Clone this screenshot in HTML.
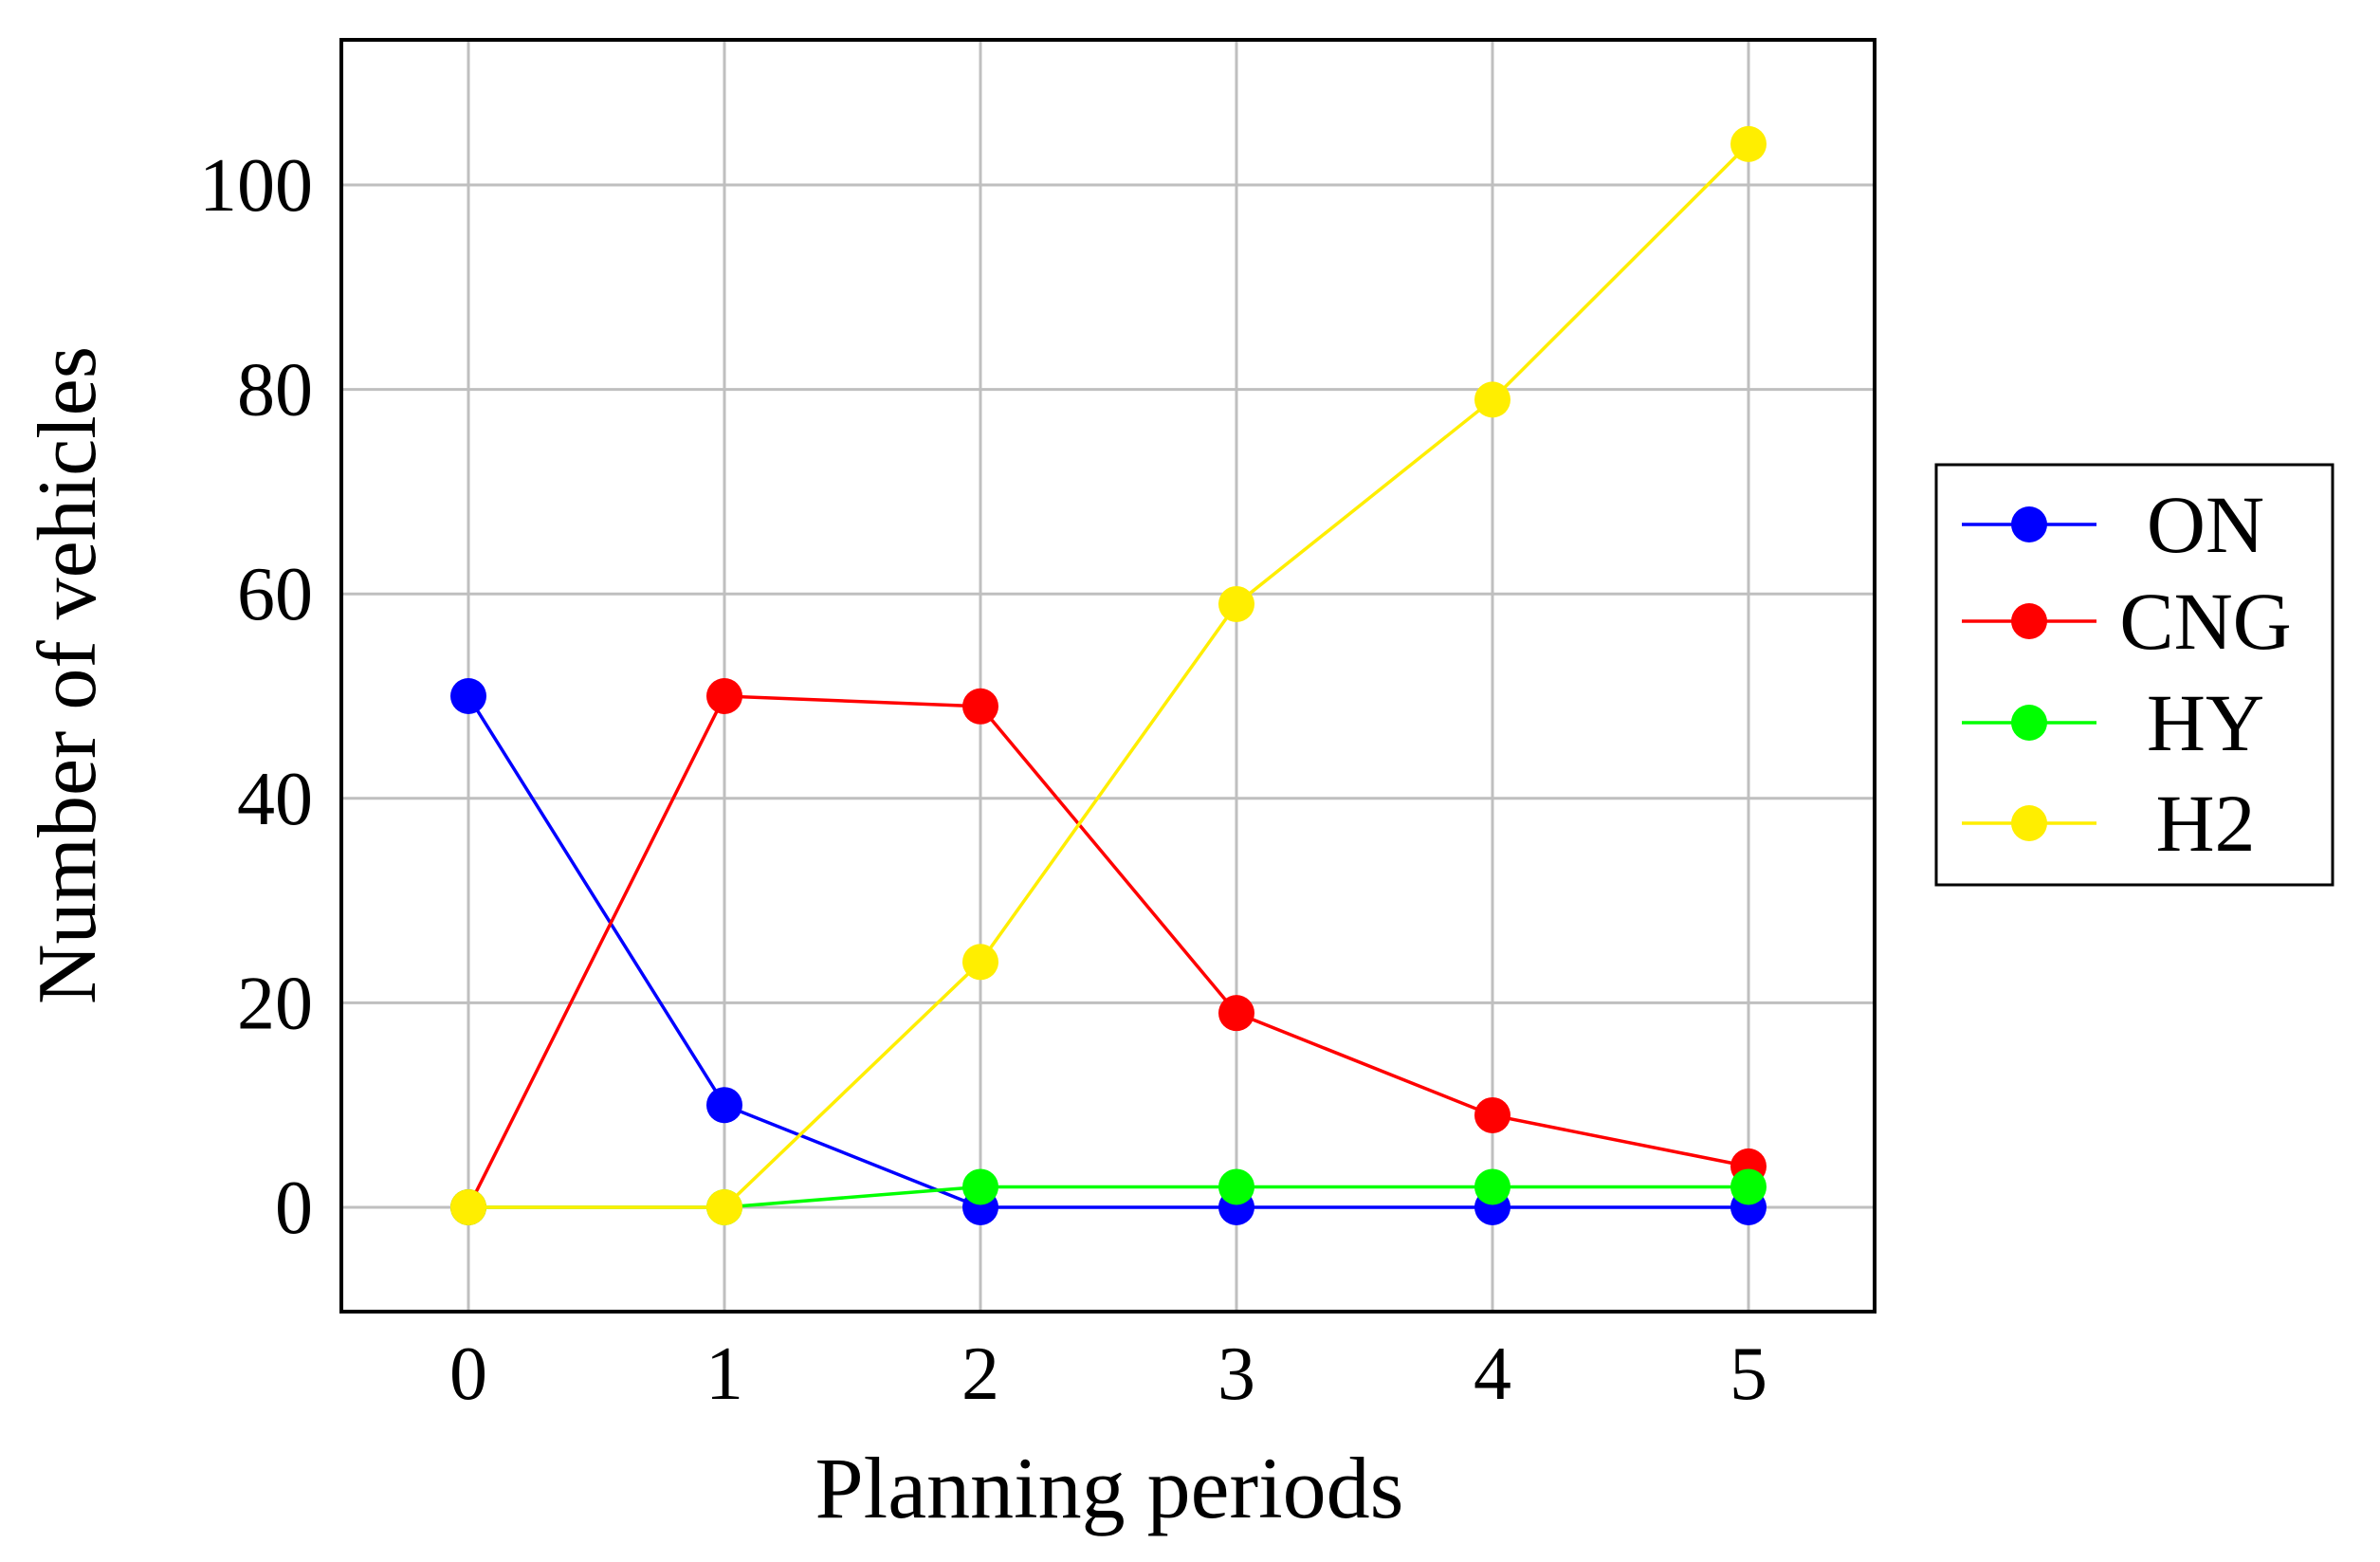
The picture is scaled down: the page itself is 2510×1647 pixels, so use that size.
<!DOCTYPE html>
<html><head><meta charset="utf-8"><style>
html,body{margin:0;padding:0;background:#fff;}
svg{display:block;font-family:"Liberation Serif",serif;}
</style></head><body>
<svg id="chart" width="2510" height="1647" viewBox="0 0 2510 1647">
<g id="grid"></g>
<g id="series"></g>
<rect x="360" y="42" width="1617" height="1341" fill="none" stroke="#000" stroke-width="4"/>
<g id="ticks"></g>
<text x="1170" y="1600" font-size="92" text-anchor="middle">Planning periods</text>
<text transform="translate(100,712) rotate(-90)" font-size="88" text-anchor="middle">Number of vehicles</text>
<g id="legend">
<rect x="2042" y="490" width="418" height="443" fill="#fff" stroke="#000" stroke-width="3"/>
</g>
</svg>
<script>
const categories=[0,1,2,3,4,5];
const seriesNames=["ON","CNG","HY","H2"];
const seriesColors=["#0000ff","#ff0000","#00ff00","#ffee00"];
const onValues=[50,10,0,0,0,0];
const cngValues=[0,50,49,19,9,4];
const hyValues=[0,0,2,2,2,2];
const h2Values=[0,0,24,59,79,104];
const yTicks=[0,20,40,60,80,100];
const NS="http://www.w3.org/2000/svg";
function xs(v){return 494+v*270;}
function ys(v){return 1273-v*10.78;}
function mk(tag,attrs,parent){const e=document.createElementNS(NS,tag);for(const k in attrs)e.setAttribute(k,attrs[k]);parent.appendChild(e);return e;}
const grid=document.getElementById('grid'),ticks=document.getElementById('ticks'),series=document.getElementById('series'),legend=document.getElementById('legend');
categories.forEach(c=>{
  const l=mk('line',{x1:xs(c),x2:xs(c),y1:42,y2:1383,stroke:'#bfbfbf','stroke-width':3},grid);
  
  
  const t=mk('text',{x:xs(c),y:1475,'font-size':80,'text-anchor':'middle'},ticks);
  t.textContent=c;
  
  
});
yTicks.forEach(v=>{
  const l=mk('line',{x1:360,x2:1977,y1:ys(v),y2:ys(v),stroke:'#bfbfbf','stroke-width':3},grid);
  
  
  const t=mk('text',{x:330,y:ys(v)+27,'font-size':80,'text-anchor':'end'},ticks);
  t.textContent=v;
  
  
});
const allVals=[onValues,cngValues,hyValues,h2Values];
const legendY=[553,655,762,868];
allVals.forEach((vals,i)=>{
  const g=mk('g',{},series);
  
  
  const pts=vals.map((v,j)=>xs(categories[j])+','+ys(v)).join(' ');
  const pl=mk('polyline',{points:pts,fill:'none',stroke:seriesColors[i],'stroke-width':3.5},g);
  
  
  vals.forEach((v,j)=>{
    const c=mk('circle',{cx:xs(categories[j]),cy:ys(v),r:19,fill:seriesColors[i]},g);
    
    
  });
  const ly=legendY[i];
  const le=mk('g',{},legend);
  
  
  mk('line',{x1:2069,x2:2211,y1:ly,y2:ly,stroke:seriesColors[i],'stroke-width':3.5},le);
  mk('circle',{cx:2140,cy:ly,r:19,fill:seriesColors[i]},le);
  const t=mk('text',{x:2326,y:ly+29,'font-size':86,'text-anchor':'middle'},le);
  t.textContent=seriesNames[i];
});
</script>
</body></html>
